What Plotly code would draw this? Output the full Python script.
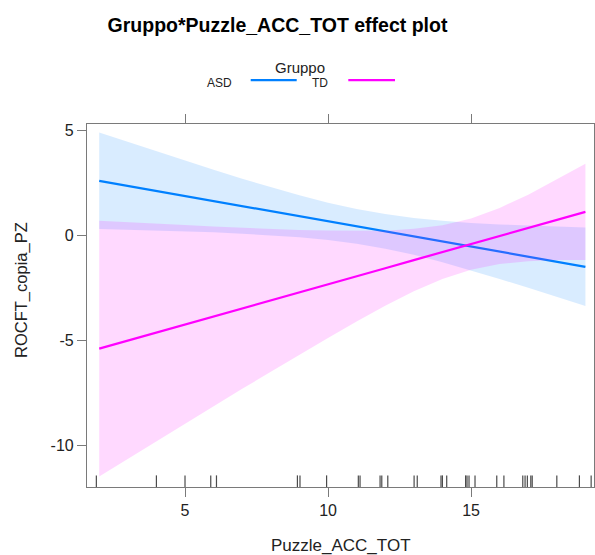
import plotly.graph_objects as go

# ---- data ----
puzzle_x = [2, 3, 4, 5, 6, 7, 8, 9, 10, 11, 12, 13, 14, 15, 16, 17, 18, 19]

asd_fit = [2.60, 2.36, 2.12, 1.88, 1.64, 1.39, 1.15, 0.91, 0.67, 0.43, 0.19, -0.05, -0.29, -0.54, -0.78, -1.02, -1.26, -1.50]
asd_upper = [4.90, 4.45, 4.01, 3.57, 3.13, 2.70, 2.29, 1.91, 1.56, 1.26, 1.02, 0.83, 0.70, 0.59, 0.52, 0.46, 0.41, 0.37]
asd_lower = [0.30, 0.27, 0.23, 0.19, 0.15, 0.08, 0.01, -0.09, -0.22, -0.40, -0.64, -0.93, -1.28, -1.67, -2.08, -2.50, -2.93, -3.37]

td_fit = [-5.40, -5.02, -4.63, -4.25, -3.87, -3.48, -3.10, -2.72, -2.33, -1.95, -1.57, -1.18, -0.80, -0.42, -0.03, 0.35, 0.74, 1.12]
td_upper = [0.70, 0.62, 0.56, 0.49, 0.42, 0.36, 0.31, 0.25, 0.23, 0.21, 0.22, 0.31, 0.48, 0.80, 1.31, 1.94, 2.66, 3.42]
td_lower = [-11.50, -10.66, -9.82, -8.99, -8.16, -7.32, -6.51, -5.69, -4.89, -4.11, -3.36, -2.67, -2.08, -1.64, -1.37, -1.24, -1.18, -1.18]

rug_x = [1.9, 4.0, 5.0, 5.9, 6.1, 8.93, 9.02, 9.95, 11.06, 11.12, 11.82, 11.88, 12.09,
         13.01, 13.12, 13.95, 14.0, 14.15, 14.81, 14.86, 14.93, 15.14, 15.9, 16.15,
         16.81, 16.89, 16.97, 17.09, 17.14, 18.0, 18.79, 19.2]

x_ticks = [5, 10, 15]
x_tick_labels = ["5", "10", "15"]
y_ticks = [5, 0, -5, -10]
y_tick_labels = ["5", "0", "-5", "-10"]

groups = ["ASD", "TD"]
line_colors = {"ASD": "#0080ff", "TD": "#ff00ff"}
band_colors = {"ASD": "rgba(0,128,255,0.15)", "TD": "rgba(255,0,255,0.15)"}

FONT = "Liberation Sans, Arial, sans-serif"

fig = go.Figure()

series = {
    "ASD": (asd_fit, asd_lower, asd_upper),
    "TD": (td_fit, td_lower, td_upper),
}

for g in groups:
    fit, lo, up = series[g]
    fig.add_trace(go.Scatter(x=puzzle_x, y=lo, mode="lines", line=dict(width=0),
                             showlegend=False, hoverinfo="skip"))
    fig.add_trace(go.Scatter(x=puzzle_x, y=up, mode="lines", line=dict(width=0),
                             fill="tonexty", fillcolor=band_colors[g],
                             showlegend=False, hoverinfo="skip"))
    fig.add_trace(go.Scatter(x=puzzle_x, y=fit, mode="lines",
                             line=dict(color=line_colors[g], width=2.2),
                             name=g, showlegend=False))

# rug on an overlay axis spanning [0, 1]
rx, ry = [], []
for v in rug_x:
    rx += [v, v, None]
    ry += [0, 0.032, None]
fig.add_trace(go.Scatter(x=rx, y=ry, mode="lines", yaxis="y2",
                         line=dict(color="rgba(30,30,30,0.8)", width=1.2),
                         showlegend=False, hoverinfo="skip"))

L, R, T, B = 87, 594, 123.5, 487
W, H = 595, 555
pw, ph = R - L, B - T

def px(xp):
    return (xp - L) / pw

def py(yp):
    return (B - yp) / ph

axis_common = dict(showline=True, linecolor="#7a7a7a", linewidth=1.2, mirror="ticks",
                   ticks="outside", ticklen=9, tickcolor="#7a7a7a", tickwidth=1.2,
                   showgrid=False, zeroline=False, automargin=False,
                   tickfont=dict(family=FONT, size=16, color="#222"))

fig.update_layout(
    width=W, height=H,
    margin=dict(l=L, r=W - R, t=T, b=H - B, autoexpand=False),
    paper_bgcolor="white", plot_bgcolor="white",
    title=dict(text="<b>Gruppo*Puzzle_ACC_TOT effect plot</b>",
               x=277.5 / W, xanchor="center", y=1 - 25 / H, yanchor="middle",
               font=dict(family=FONT, size=19.5, color="#000")),
    xaxis=dict(range=[1.573, 19.30], tickvals=x_ticks, ticktext=x_tick_labels, **axis_common),
    yaxis=dict(range=[-12.0, 5.31], tickvals=y_ticks, ticktext=y_tick_labels, **axis_common),
    yaxis2=dict(range=[0, 1], overlaying="y", visible=False, fixedrange=True),
    showlegend=False,
)

annotations = [
    dict(text="Gruppo", x=px(300), y=py(66.5), font=dict(size=15, color="#222")),
    dict(text="ASD", x=px(219), y=py(82), font=dict(size=12, color="#222")),
    dict(text="TD", x=px(320), y=py(82), font=dict(size=12, color="#222")),
    dict(text="Puzzle_ACC_TOT", x=px(340.7), y=py(546), font=dict(size=17, color="#222")),
    dict(text="ROCFT_copia_PZ", x=px(21.7), y=py(290), textangle=-90,
         font=dict(size=16.5, color="#222")),
]
for a in annotations:
    a.update(xref="paper", yref="paper", showarrow=False, xanchor="center", yanchor="middle")
    a["font"]["family"] = FONT
    fig.add_annotation(**a)

# legend keys
fig.add_shape(type="line", xref="paper", yref="paper", x0=px(250.7), x1=px(296.7),
              y0=py(79.5), y1=py(79.5), line=dict(color=line_colors["ASD"], width=2.2))
fig.add_shape(type="line", xref="paper", yref="paper", x0=px(348.3), x1=px(395),
              y0=py(79.5), y1=py(79.5), line=dict(color=line_colors["TD"], width=2.2))

fig.write_html("out.html", config={"displayModeBar": False},
               post_script="document.body.style.margin='0';document.body.style.overflow='hidden';")
